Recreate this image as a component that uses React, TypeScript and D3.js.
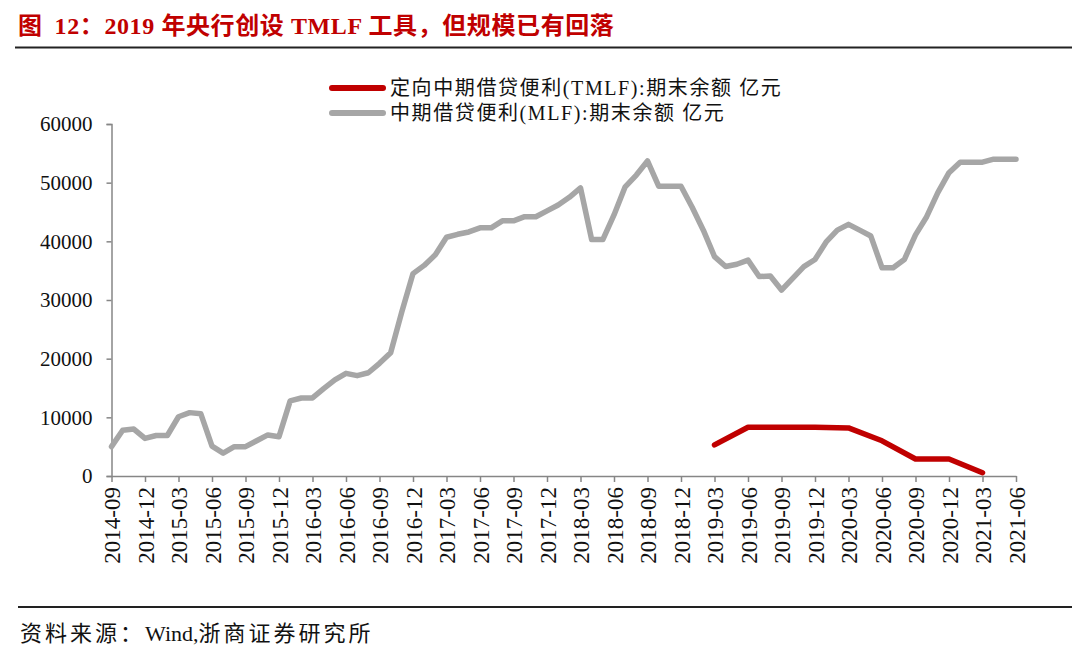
import { useEffect, useRef } from 'react';
import * as d3 from 'd3';

// monthly points, 2014-09 .. 2021-06
const startMonth = new Date(2014, 8, 1);
const months = d3.timeMonth
  .range(startMonth, new Date(2021, 6, 1))
  .map((d) => d3.timeFormat('%Y-%m')(d));

// 中期借贷便利(MLF) 期末余额, 亿元
const mlfValues = [
  5000, 7800, 8000, 6400, 6900, 6900, 10100, 10800, 10600, 5100, 3900, 5000,
  5000, 6000, 7000, 6700, 12800, 13300, 13300, 14900, 16400, 17500, 17100, 17600,
  19200, 21000, 28000, 34500, 35900, 37700, 40700, 41200, 41600, 42300, 42300, 43500,
  43500, 44200, 44200, 45200, 46200, 47500, 49100, 40300, 40300, 44500, 49300, 51300,
  53700, 49400, 49400, 49400, 45800, 41900, 37400, 35700, 36100, 36800, 34000, 34100,
  31700, 33700, 35700, 36900, 39900, 41900, 42900, 41900, 40900, 35500, 35500, 36900,
  41100, 44200, 48300, 51700, 53500, 53500, 53500, 54000, 54000, 54000,
];

// 定向中期借贷便利(TMLF) 期末余额, 亿元 (quarterly)
const tmlfMonths = ['2019-03', '2019-06', '2019-09', '2019-12', '2020-03', '2020-06', '2020-09', '2020-12', '2021-03'];
const tmlfValues = [5300, 8300, 8300, 8300, 8200, 6000, 2900, 2900, 550];

const yTicks = [0, 10000, 20000, 30000, 40000, 50000, 60000];
const xTickLabels = months.filter((_, i) => i % 3 === 0);

const legendItems = [
  { label: '定向中期借贷便利(TMLF):期末余额 亿元', color: '#c00000' },
  { label: '中期借贷便利(MLF):期末余额 亿元', color: '#a6a6a6' },
];

const serif = '"Times New Roman", "Liberation Serif", "Noto Sans CJK SC", serif';

const App = () => {
  const ref = useRef<SVGSVGElement>(null);

  const width = 1080;
  const height = 651;
  const plot = { left: 111.5, right: 1016, top: 124, bottom: 476 };

  useEffect(() => {
    const svg = d3.select(ref.current);
    svg.selectAll('*').remove();

    const x = d3.scalePoint<string>().domain(months).range([plot.left, plot.right]);
    const y = d3.scaleLinear().domain([0, 60000]).range([plot.bottom, plot.top]);

    // title
    const title = svg
      .append('text')
      .attr('x', 18)
      .attr('y', 34)
      .style('font-family', serif)
      .style('font-size', '24px')
      .style('font-weight', 'bold')
      .style('letter-spacing', '0.6px')
      .style('fill', '#c00000');
    title.append('tspan').text('图');
    title.append('tspan').attr('dx', 12).text('12：2019 年央行创设 TMLF 工具，但规模已有回落');

    svg.append('line')
      .attr('x1', 15).attr('x2', 1072).attr('y1', 47.5).attr('y2', 47.5)
      .style('stroke', '#222').style('stroke-width', 2);

    svg.append('line')
      .attr('x1', 18).attr('x2', 1072).attr('y1', 607).attr('y2', 607)
      .style('stroke', '#222').style('stroke-width', 2);

    const source = svg
      .append('text')
      .attr('x', 20)
      .attr('y', 641)
      .style('font-family', serif)
      .style('font-size', '22px')
      .style('fill', '#111');
    source.append('tspan').style('letter-spacing', '3px').text('资料来源：');
    source.append('tspan').text('Wind,');
    source.append('tspan').style('letter-spacing', '3px').text('浙商证券研究所');

    // y axis
    const yAxis = d3.axisLeft(y).tickValues(yTicks).tickSize(5).tickPadding(14).tickFormat(d3.format('d'));
    const yg = svg.append('g').attr('transform', `translate(${plot.left},0)`).call(yAxis);
    yg.select('.domain').style('stroke', '#868686').style('stroke-width', 1.5);
    yg.selectAll('.tick line').style('stroke', '#868686').style('stroke-width', 1.5);
    yg.selectAll('.tick text')
      .style('font-family', serif)
      .style('font-size', '21px')
      .style('fill', '#111');

    // x axis
    const xAxis = d3.axisBottom(x).tickValues(xTickLabels).tickSize(6).tickSizeOuter(0);
    const xg = svg.append('g').attr('transform', `translate(0,${plot.bottom})`).call(xAxis);
    xg.select('.domain').style('stroke', '#868686').style('stroke-width', 1.5);
    xg.selectAll('.tick line').style('stroke', '#868686').style('stroke-width', 1.5);
    xg.selectAll('.tick text')
      .attr('transform', 'rotate(-90)')
      .attr('x', -11)
      .attr('y', 0)
      .attr('dy', '0.35em')
      .style('text-anchor', 'end')
      .style('font-family', serif)
      .style('font-size', '23px')
      .style('fill', '#111');

    // lines
    const line = d3
      .line<[string, number]>()
      .x((d) => x(d[0]) as number)
      .y((d) => y(d[1]));

    svg
      .append('path')
      .datum(months.map((m, i) => [m, mlfValues[i]] as [string, number]))
      .attr('d', line)
      .style('fill', 'none')
      .style('stroke', '#a6a6a6')
      .style('stroke-width', 5.5)
      .style('stroke-linejoin', 'round')
      .style('stroke-linecap', 'round');

    svg
      .append('path')
      .datum(tmlfMonths.map((m, i) => [m, tmlfValues[i]] as [string, number]))
      .attr('d', line)
      .style('fill', 'none')
      .style('stroke', '#c00000')
      .style('stroke-width', 5.5)
      .style('stroke-linejoin', 'round')
      .style('stroke-linecap', 'round');

    // legend
    const lg = svg.append('g').attr('transform', 'translate(330,88)');
    legendItems.forEach((item, i) => {
      const row = lg.append('g').attr('transform', `translate(0,${i * 25})`);
      row.append('line')
        .attr('x1', 2).attr('x2', 53).attr('y1', 0).attr('y2', 0)
        .style('stroke', item.color).style('stroke-width', 6).style('stroke-linecap', 'round');
      row.append('text')
        .attr('x', 60)
        .attr('y', 0)
        .attr('dy', '0.35em')
        .style('font-family', serif)
        .style('font-size', '20px')
        .style('letter-spacing', '1.6px')
        .style('fill', '#111')
        .text(item.label);
    });
  }, []);

  return (
    <div style={{ position: 'absolute', left: 0, top: 0 }}>
      <svg ref={ref} width={width} height={height} style={{ display: 'block', background: '#fff' }} />
    </div>
  );
};

export default App;
